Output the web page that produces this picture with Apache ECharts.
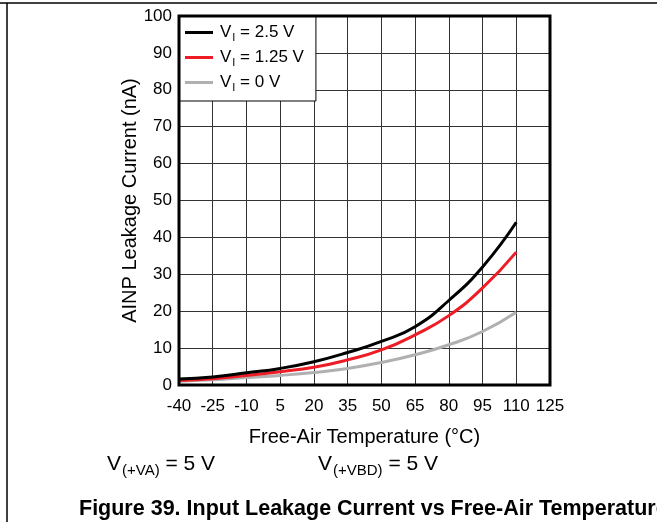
<!DOCTYPE html>
<html>
<head>
<meta charset="utf-8">
<script src="https://cdn.jsdelivr.net/npm/echarts@6/dist/echarts.min.js"></script>
<style>
html,body{margin:0;padding:0;background:#fff;}
#chart{width:657px;height:522px;}
</style>
</head>
<body>
<div id="chart"></div>
<script>
// Temperature points (°C) and leakage current (nA) per input voltage
const temps = [-40, -25, -10, 5, 20, 35, 50, 65, 80, 95, 110];
const leak25 = [1.6, 2.2, 3.3, 4.5, 6.3, 8.8, 11.8, 15.8, 22.9, 32.0, 44.1];
const leak125 = [1.2, 1.7, 2.6, 3.6, 4.8, 6.8, 9.5, 13.6, 18.8, 26.3, 36.0];
const leak0 = [1.0, 1.4, 2.0, 2.6, 3.4, 4.5, 6.1, 8.2, 10.9, 14.5, 19.7];
const seriesNames = ['2.5', '1.25', '0'];
const seriesColors = ['#000000', '#ee1c25', '#b0b0b0'];
const xTicks = { min: -40, max: 125, interval: 15 };
const yTicks = { min: 0, max: 100, interval: 10 };

const font = '"Liberation Sans", Arial, sans-serif';
const chart = echarts.init(document.getElementById('chart'));

function pairs(vals) { return temps.map((t, i) => [t, vals[i]]); }

const rich = {
  v: { fontFamily: font, fontSize: 17, color: '#000' },
  s: { fontFamily: font, fontSize: 11, color: '#000', padding: [10, 0, 0, 1] }
};
const richBig = {
  v: { fontFamily: font, fontSize: 21, color: '#000' },
  s: { fontFamily: font, fontSize: 15, color: '#000', padding: [13, 0, 0, 1] }
};

chart.setOption({
  animation: false,
  backgroundColor: '#fff',
  grid: { left: 179, right: 107, top: 16, bottom: 137, containLabel: false },
  xAxis: {
    type: 'value', min: xTicks.min, max: xTicks.max, interval: xTicks.interval,
    name: 'Free-Air Temperature (°C)', nameLocation: 'middle', nameGap: 42,
    nameTextStyle: { fontFamily: font, fontSize: 20, color: '#000' },
    axisLine: { show: false },
    axisTick: { show: false },
    axisLabel: { fontFamily: font, fontSize: 17, color: '#000', margin: 13 },
    splitLine: { show: true, lineStyle: { color: '#333', width: 1 } }
  },
  yAxis: {
    type: 'value', min: yTicks.min, max: yTicks.max, interval: yTicks.interval,
    name: 'AINP Leakage Current (nA)', nameLocation: 'middle', nameGap: 39,
    nameMoveOverlap: false,
    nameTextStyle: { fontFamily: font, fontSize: 20, color: '#000' },
    axisLine: { show: false },
    axisTick: { show: false },
    axisLabel: { fontFamily: font, fontSize: 17, color: '#000', margin: 7 },
    splitLine: { show: true, lineStyle: { color: '#333', width: 1 } }
  },
  legend: {
    orient: 'vertical', left: 179, top: 16,
    padding: [8, 12, 8, 6],
    itemGap: 6,
    itemWidth: 28, itemHeight: 3,
    icon: 'rect',
    backgroundColor: '#fff',
    borderColor: '#000', borderWidth: 1,
    data: seriesNames.map(n => ({ name: n })),
    formatter: n => '{v|V}{s|I}{v| = ' + n + ' V}',
    textStyle: { rich: rich, padding: [0, 0, 0, 2] }
  },
  series: [leak0, leak125, leak25].map((vals, k) => {
    const idx = 2 - k;
    return {
      name: seriesNames[idx], type: 'line', smooth: true, symbol: 'none',
      data: pairs(vals), z: 3 + k,
      lineStyle: { color: seriesColors[idx], width: 3 },
      itemStyle: { color: seriesColors[idx] }
    };
  }),
  graphic: [
    // plot frame
    { type: 'rect', shape: { x: 179, y: 16, width: 371, height: 369 }, z: 10,
      style: { fill: null, stroke: '#000', lineWidth: 3 } },
    // page frame lines
    { type: 'line', shape: { x1: 0, y1: 3, x2: 657, y2: 3 }, style: { stroke: '#000', lineWidth: 1.5 } },
    { type: 'line', shape: { x1: 7, y1: 3, x2: 7, y2: 522 }, style: { stroke: '#000', lineWidth: 1.5 } },
    { type: 'text', left: 107, top: 454,
      style: { text: '{v|V}{s|(+VA)}{v| = 5 V}', rich: richBig } },
    { type: 'text', left: 318, top: 454,
      style: { text: '{v|V}{s|(+VBD)}{v| = 5 V}', rich: richBig } },
    { type: 'text', left: 79, top: 498,
      style: { text: 'Figure 39. Input Leakage Current vs Free-Air Temperature',
        fontFamily: font, fontSize: 21.5, fontWeight: 'bold', fill: '#000' } }
  ]
});
</script>
</body>
</html>
